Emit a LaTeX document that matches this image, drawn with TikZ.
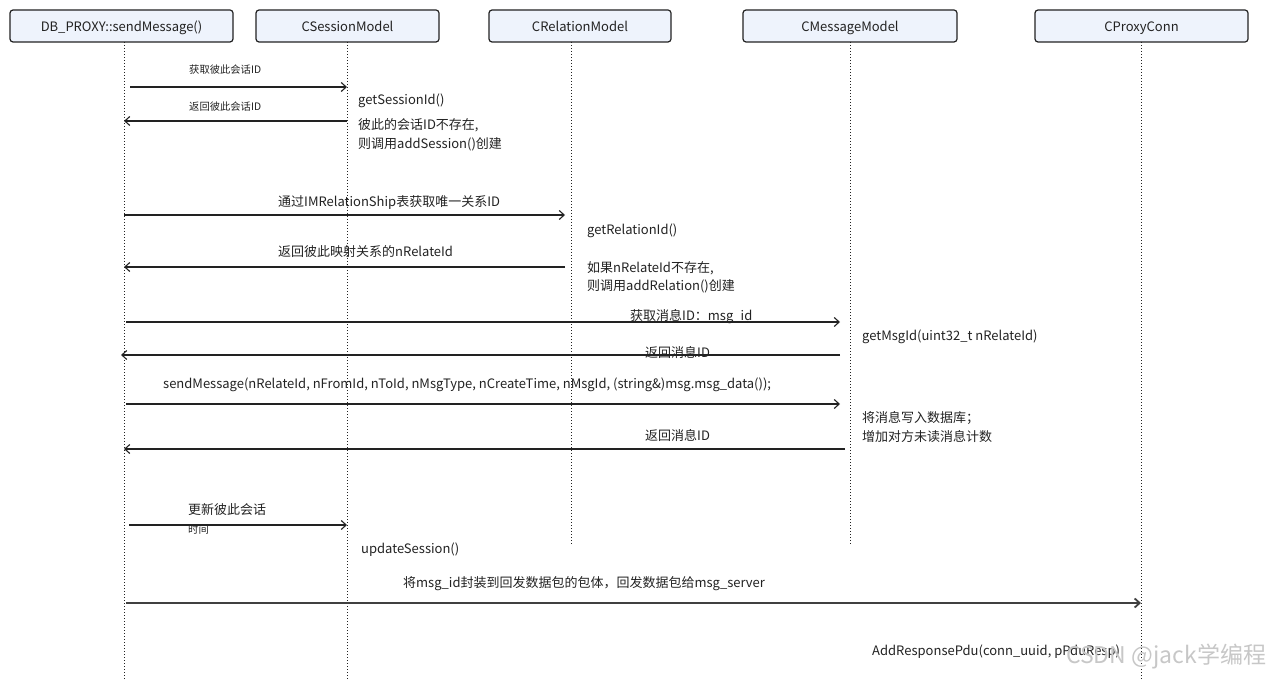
\documentclass[tikz,border=0pt]{standalone}
\usepackage{fontspec}
\setmainfont{Noto Sans CJK SC}
\usetikzlibrary{arrows.meta}
\definecolor{boxfill}{HTML}{EEF3FC}
\definecolor{ink}{HTML}{222222}
\tikzset{
  actor/.style={draw=ink, line width=1.2pt, rounded corners=3pt, fill=boxfill, minimum height=32pt, inner sep=0pt, text height=14pt, text depth=2pt, font=\fontsize{13}{15}\selectfont, text=ink},
  life/.style={draw=ink, line width=1pt, dotted},
  msg/.style={draw=ink, line width=1.1pt, -{Straight Barb[length=5pt,width=9pt]}},
  bigmsg/.style={draw=black!75, line width=1.8pt, -{Straight Barb[length=5pt,width=9pt]}},
  lbl/.style={anchor=west, inner sep=0pt, font=\fontsize{13}{15}\selectfont, text=ink},
  slbl/.style={anchor=west, inner sep=0pt, font=\fontsize{10.3}{12}\selectfont, text=ink},
}
\begin{document}
\begin{tikzpicture}[x=1pt,y=-1pt]
\useasboundingbox (0,0) rectangle (1280,679);
% actors
\node[actor, minimum width=223pt] (db) at (121.5,26) {DB\_PROXY::sendMessage()};
\node[actor, minimum width=183pt] (ses) at (347.5,26) {CSessionModel};
\node[actor, minimum width=182pt] (rel) at (580,26) {CRelationModel};
\node[actor, minimum width=214pt] (mes) at (850,26) {CMessageModel};
\node[actor, minimum width=213pt] (pro) at (1141.5,26) {CProxyConn};
% lifeline ends
\coordinate (dbe) at (124,679);
\coordinate (sese) at (347,679);
\coordinate (rele) at (571,545);
\coordinate (mese) at (850,545);
\coordinate (proe) at (1141,679);
\draw[life] (124,42) -- (dbe);
\draw[life] (347,42) -- (sese);
\draw[life] (571,42) -- (rele);
\draw[life] (850,42) -- (mese);
\draw[life] (1141,42) -- (proe);
% message endpoints
\coordinate (a1) at (130,87);  \coordinate (b1) at (347,87);
\coordinate (a2) at (347,121); \coordinate (b2) at (124,121);
\coordinate (a3) at (124,215); \coordinate (b3) at (565,215);
\coordinate (a4) at (565,267); \coordinate (b4) at (124,267);
\coordinate (a5) at (126,322); \coordinate (b5) at (840,322);
\coordinate (a6) at (840,355); \coordinate (b6) at (121,355);
\coordinate (a7) at (126,404); \coordinate (b7) at (840,404);
\coordinate (a8) at (845,449); \coordinate (b8) at (124,449);
\coordinate (a9) at (129,525); \coordinate (b9) at (347,525);
\coordinate (a10) at (126,603); \coordinate (b10) at (1141,603);
\draw[msg] (a1) -- (b1);
\draw[msg] (a2) -- (b2);
\draw[msg] (a3) -- (b3);
\draw[msg] (a4) -- (b4);
\draw[msg] (a5) -- (b5);
\draw[msg] (a6) -- (b6);
\draw[msg] (a7) -- (b7);
\draw[msg] (a8) -- (b8);
\draw[msg] (a9) -- (b9);
\draw[bigmsg] (a10) -- (b10);
% message labels
\node[slbl] (l1) at (189,70) {获取彼此会话ID};
\node[slbl] (l2) at (189,107) {返回彼此会话ID};
\node[lbl] (l3) at (278,203) {通过IMRelationShip表获取唯一关系ID};
\node[lbl] (l4) at (278,252) {返回彼此映射关系的nRelateId};
\node[lbl] (l5) at (630,317) {获取消息ID：msg\_id};
\node[lbl] (l6) at (645,352) {返回消息ID};
\node[lbl] (l7) at (163,385) {sendMessage(nRelateId, nFromId, nToId, nMsgType, nCreateTime, nMsgId, (string\&)msg.msg\_data());};
\node[lbl] (l8) at (645,435) {返回消息ID};
\node[lbl] (l9a) at (188,510) {更新彼此会话};
\node[slbl] (l9b) at (188,530) {时间};
\node[lbl] (l10) at (403,584) {将msg\_id封装到回发数据包的包体，回发数据包给msg\_server};
% notes
\node[lbl] (n1) at (358,101) {getSessionId()};
\node[lbl] (n2) at (358,125) {彼此的会话ID不存在,};
\node[lbl] (n3) at (358,144) {则调用addSession()创建};
\node[lbl] (n4) at (587,231) {getRelationId()};
\node[lbl] (n5) at (587,268) {如果nRelateId不存在,};
\node[lbl] (n6) at (587,286) {则调用addRelation()创建};
\node[lbl] (n7) at (862,337) {getMsgId(uint32\_t nRelateId)};
\node[lbl] (n8) at (862,418) {将消息写入数据库；};
\node[lbl] (n9) at (862,437) {增加对方未读消息计数};
\node[lbl] (n10) at (361,550) {updateSession()};
\node[lbl] (n11) at (872,652) {AddResponsePdu(conn\_uuid, pPduResp)};
% watermark
\node[anchor=west, inner sep=0pt, font=\fontsize{23}{25}\selectfont, text=black!22] (wm) at (1066,657) {CSDN @jack学编程};
\end{tikzpicture}
\end{document}
